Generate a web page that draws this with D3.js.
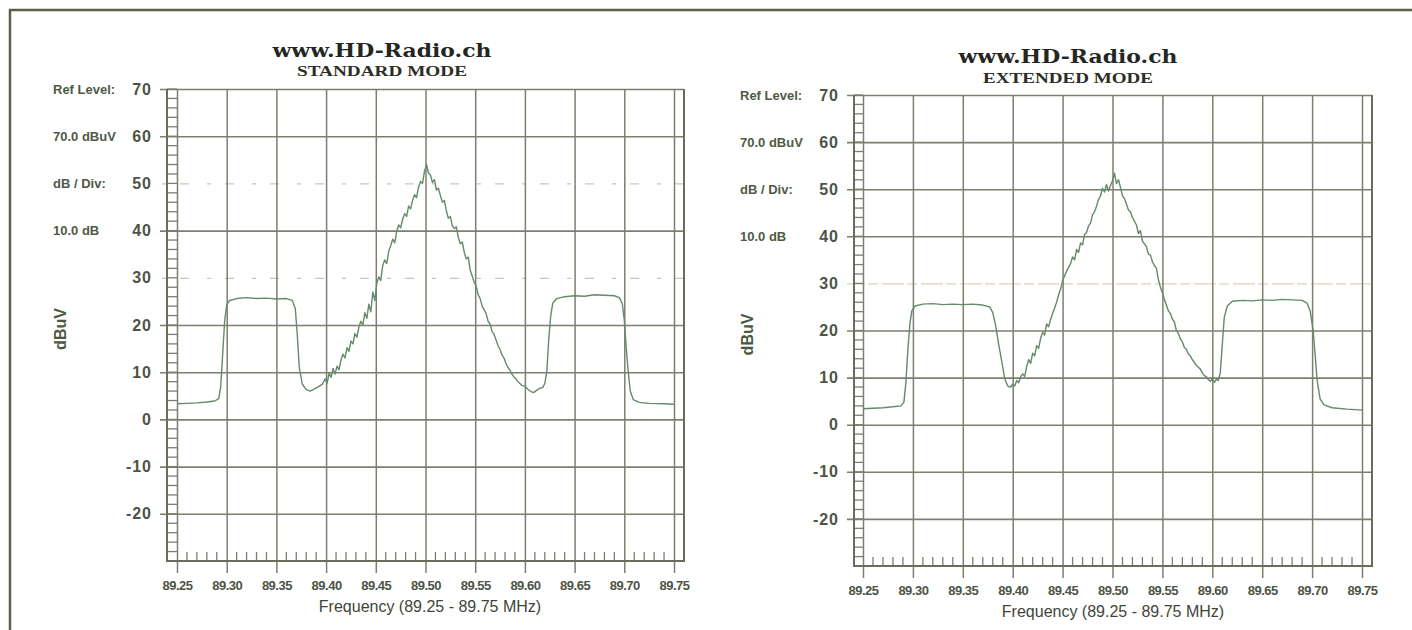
<!DOCTYPE html>
<html>
<head>
<meta charset="utf-8">
<script src="https://cdn.jsdelivr.net/npm/d3@7"></script>
<style>
  body { margin: 0; background: #fff; }
  svg { display: block; }
</style>
</head>
<body>
<div id="chart"></div>
<script>
// axis ticks
const freqTicks = [89.25, 89.3, 89.35, 89.4, 89.45, 89.5, 89.55, 89.6, 89.65, 89.7, 89.75];
const levelTicks = [-20, -10, 0, 10, 20, 30, 40, 50, 60, 70];

// analyzer settings printed left of the plot, next to the levels 70..40
const infoLabels = ["Ref Level:", "70.0 dBuV", "dB / Div:", "10.0 dB"];
const infoLevels = [70, 60, 50, 40];

// grid levels that are drawn as faint dashed lines instead of solid ones
const stdRefLevels = [50, 30];
const extRefLevels = [30];

// [frequency MHz, level dBuV]
const stdTrace = [
  [89.25, 3.3], [89.26, 3.4], [89.27, 3.5], [89.28, 3.7], [89.288, 3.9], [89.292, 4.4],
  [89.294, 7], [89.296, 14], [89.298, 21], [89.3, 24.2], [89.303, 25.2], [89.31, 25.6],
  [89.32, 25.8], [89.33, 25.6], [89.34, 25.7], [89.35, 25.5], [89.36, 25.6], [89.366, 25.2],
  [89.369, 23.5], [89.371, 18], [89.373, 11], [89.376, 7.5], [89.38, 6.3], [89.384, 6.0],
  [89.388, 6.4], [89.392, 6.9], [89.396, 7.4], [89.399, 8.6], [89.401, 7.6], [89.403, 9.8],
  [89.405, 8.9], [89.407, 10.8], [89.409, 9.6], [89.411, 11.3], [89.413, 10.5], [89.415, 12.6],
  [89.417, 13.8], [89.419, 13.0], [89.421, 15.2], [89.423, 14.4], [89.425, 16.6], [89.427, 16.0],
  [89.429, 18.2], [89.431, 17.4], [89.433, 19.6], [89.435, 20.8], [89.437, 20.0], [89.439, 22.6],
  [89.441, 21.4], [89.443, 24.4], [89.445, 22.8], [89.447, 27.0], [89.449, 25.2], [89.451, 28.8],
  [89.453, 30.2], [89.455, 29.4], [89.457, 32.6], [89.459, 33.8], [89.461, 33.0], [89.463, 35.6],
  [89.465, 36.8], [89.467, 38.2], [89.469, 37.4], [89.471, 39.8], [89.473, 41.2], [89.475, 40.6],
  [89.477, 42.4], [89.479, 43.6], [89.481, 43.0], [89.483, 45.2], [89.485, 44.6], [89.487, 46.4],
  [89.489, 47.6], [89.491, 47.0], [89.493, 49.2], [89.495, 50.4], [89.497, 50.0], [89.499, 52.6],
  [89.501, 54.0], [89.503, 52.2], [89.505, 51.8], [89.507, 50.2], [89.509, 50.8], [89.511, 48.6],
  [89.513, 49.0], [89.515, 47.4], [89.517, 46.0], [89.519, 46.4], [89.521, 44.2], [89.523, 42.6],
  [89.525, 43.0], [89.527, 41.0], [89.529, 40.4], [89.531, 40.8], [89.533, 38.6], [89.535, 37.2],
  [89.537, 37.6], [89.539, 35.4], [89.541, 34.0], [89.543, 34.4], [89.545, 31.6], [89.547, 30.4],
  [89.549, 29.0], [89.551, 28.2], [89.553, 26.4], [89.555, 25.6], [89.557, 24.0], [89.559, 23.2],
  [89.561, 22.4], [89.563, 20.8], [89.565, 20.2], [89.567, 18.6], [89.569, 18.0], [89.571, 16.8],
  [89.573, 15.6], [89.575, 14.8], [89.577, 13.6], [89.579, 13.0], [89.581, 11.8], [89.583, 11.0],
  [89.585, 10.4], [89.587, 9.6], [89.589, 9.0], [89.591, 8.6], [89.593, 8.0], [89.595, 7.6],
  [89.597, 7.2], [89.6, 7.0], [89.603, 6.4], [89.606, 5.9], [89.609, 5.7], [89.612, 6.2],
  [89.615, 6.6], [89.618, 6.8], [89.62, 7.6], [89.622, 10], [89.624, 17], [89.626, 22],
  [89.628, 24.6], [89.632, 25.6], [89.64, 26.0], [89.65, 26.2], [89.66, 26.1], [89.67, 26.4],
  [89.68, 26.3], [89.69, 26.2], [89.695, 25.8], [89.698, 24.5], [89.7, 21], [89.702, 15],
  [89.704, 10], [89.706, 6], [89.709, 4.2], [89.715, 3.6], [89.725, 3.4], [89.74, 3.3],
  [89.75, 3.2]
];

// [frequency MHz, level dBuV]
const extTrace = [
  [89.25, 3.4], [89.26, 3.5], [89.27, 3.6], [89.28, 3.8], [89.288, 4.0], [89.291, 4.8],
  [89.293, 9], [89.295, 16], [89.297, 21.5], [89.299, 24.2], [89.302, 25.2], [89.31, 25.6],
  [89.32, 25.7], [89.33, 25.5], [89.34, 25.6], [89.35, 25.5], [89.36, 25.6], [89.37, 25.4],
  [89.377, 25.0], [89.38, 23.8], [89.383, 21], [89.386, 17], [89.389, 13.5], [89.392, 9.8],
  [89.395, 8.2], [89.398, 8.0], [89.4, 8.6], [89.402, 8.2], [89.404, 9.4], [89.406, 8.9],
  [89.408, 10.2], [89.41, 10.8], [89.412, 10.2], [89.414, 12.4], [89.416, 13.8], [89.418, 13.0],
  [89.42, 15.2], [89.422, 14.6], [89.424, 16.8], [89.426, 16.2], [89.428, 18.4], [89.43, 19.6],
  [89.432, 19.0], [89.434, 21.4], [89.436, 20.8], [89.438, 22.4], [89.44, 23.6], [89.442, 24.8],
  [89.444, 26.0], [89.446, 27.6], [89.448, 28.8], [89.45, 30.6], [89.452, 31.6], [89.454, 32.6],
  [89.456, 33.4], [89.458, 34.2], [89.46, 35.6], [89.462, 35.0], [89.464, 37.2], [89.466, 36.6],
  [89.468, 38.6], [89.47, 38.2], [89.472, 40.4], [89.474, 40.8], [89.476, 42.2], [89.478, 42.8],
  [89.48, 44.6], [89.482, 45.2], [89.484, 46.4], [89.486, 47.8], [89.488, 48.6], [89.49, 50.2],
  [89.492, 49.4], [89.494, 51.0], [89.496, 49.6], [89.498, 50.8], [89.5, 51.8], [89.502, 53.4],
  [89.504, 51.2], [89.506, 52.0], [89.508, 50.4], [89.51, 48.6], [89.512, 48.0], [89.514, 46.8],
  [89.516, 45.6], [89.518, 45.2], [89.52, 44.0], [89.522, 43.2], [89.524, 42.4], [89.526, 40.6],
  [89.528, 41.2], [89.53, 39.0], [89.532, 38.4], [89.534, 37.8], [89.536, 36.2], [89.538, 36.0],
  [89.54, 34.6], [89.542, 33.8], [89.544, 33.2], [89.546, 30.8], [89.548, 29.2], [89.55, 28.0],
  [89.552, 26.6], [89.554, 25.4], [89.556, 24.2], [89.558, 23.6], [89.56, 22.4], [89.562, 21.8],
  [89.564, 20.0], [89.566, 19.4], [89.568, 18.2], [89.57, 17.6], [89.572, 16.4], [89.574, 16.0],
  [89.576, 15.0], [89.578, 14.6], [89.58, 13.8], [89.582, 13.2], [89.584, 12.6], [89.586, 12.2],
  [89.588, 11.8], [89.59, 11.0], [89.592, 10.4], [89.594, 10.2], [89.596, 9.6], [89.598, 9.2],
  [89.6, 9.8], [89.602, 9.0], [89.604, 9.6], [89.606, 9.4], [89.608, 11], [89.61, 17],
  [89.612, 22.8], [89.615, 25.2], [89.62, 26.2], [89.63, 26.4], [89.64, 26.3], [89.65, 26.5],
  [89.66, 26.4], [89.67, 26.6], [89.68, 26.5], [89.69, 26.4], [89.695, 25.8], [89.698, 24.2],
  [89.701, 20], [89.703, 15], [89.705, 9.5], [89.708, 5.5], [89.712, 4.2], [89.72, 3.6],
  [89.735, 3.3], [89.75, 3.1]
];

const gridColor = "#7c7f6d";
const frameColor = "#6a6d5b";
const textColor = "#4d5446";
const traceColor = "#638a69";

const panels = [
  {
    mode: "STANDARD MODE", trace: stdTrace, refs: stdRefLevels,
    refColor: "#c4b2b5", refDash: "9,14,4,18",
    frameLeft: 167, left: 177, right: 674, frameRight: 684, top: 89, bottom: 561,
    titleX: 382, titleY: 57, modeY: 76, infoX: 53, unitX: 62,
    axisTitleX: 430, axisTitleY: 612
  },
  {
    mode: "EXTENDED MODE", trace: extTrace, refs: extRefLevels,
    refColor: "#d6c8a8", refDash: "22,4,10,3",
    frameLeft: 854, left: 863, right: 1362, frameRight: 1372, top: 95, bottom: 566,
    titleX: 1068, titleY: 63, modeY: 83, infoX: 740, unitX: 749,
    axisTitleX: 1113, axisTitleY: 617
  }
];

const svg = d3
  .select("#chart")
  .append("svg")
  .attr("width", 1412)
  .attr("height", 630);

// page border (top and left edge of the scan)
svg
  .append("path")
  .attr("d", "M10,630 V10 H1412")
  .attr("fill", "none")
  .attr("stroke", "#5c604c")
  .attr("stroke-width", 2.5);

const drawPanel = (p) => {
  const x = d3.scaleLinear().domain([89.25, 89.75]).range([p.left, p.right]);
  const y = d3.scaleLinear().domain([-30, 70]).range([p.bottom, p.top]);
  const g = svg.append("g");

  // titles
  g.append("text")
    .attr("x", p.titleX)
    .attr("y", p.titleY)
    .attr("text-anchor", "middle")
    .attr("font-family", "DejaVu Serif")
    .attr("font-weight", "bold")
    .attr("font-size", 19)
    .attr("fill", "#25261f")
    .attr("textLength", 219)
    .attr("lengthAdjust", "spacingAndGlyphs")
    .text("www.HD-Radio.ch");

  g.append("text")
    .attr("x", p.titleX)
    .attr("y", p.modeY)
    .attr("text-anchor", "middle")
    .attr("font-family", "Liberation Serif")
    .attr("font-weight", "bold")
    .attr("font-size", 15)
    .attr("fill", "#2c2d25")
    .attr("textLength", 170)
    .attr("lengthAdjust", "spacingAndGlyphs")
    .text(p.mode);

  // horizontal grid + level labels
  const yAxis = g
    .append("g")
    .attr("transform", "translate(" + p.frameRight + ",0)")
    .call(
      d3.axisLeft(y)
        .tickValues(levelTicks)
        .tickSize(p.frameRight - p.frameLeft + 7)
        .tickPadding(8)
        .tickFormat((d) => String(d))
    );
  yAxis.select(".domain").remove();
  yAxis.selectAll(".tick line").attr("stroke", gridColor).attr("stroke-width", 1.6);
  // the reference levels are faint dashed lines, not solid grid
  yAxis
    .selectAll(".tick line")
    .filter((d) => p.refs.includes(d))
    .attr("stroke", p.refColor)
    .attr("stroke-width", 1)
    .attr("stroke-dasharray", p.refDash);
  yAxis
    .selectAll(".tick text")
    .attr("fill", textColor)
    .attr("font-family", "Liberation Sans, Arial")
    .attr("font-weight", "bold")
    .attr("font-size", 16)
    .attr("letter-spacing", 1);

  // vertical grid + frequency labels
  const xAxis = g
    .append("g")
    .attr("transform", "translate(0," + p.top + ")")
    .call(
      d3.axisBottom(x)
        .tickValues(freqTicks)
        .tickSize(p.bottom - p.top + 12)
        .tickPadding(8)
        .tickFormat(d3.format(".2f"))
    );
  xAxis.select(".domain").remove();
  xAxis.selectAll(".tick line").attr("stroke", gridColor).attr("stroke-width", 1.5);
  xAxis
    .selectAll(".tick text")
    .attr("fill", textColor)
    .attr("font-family", "Liberation Sans, Arial")
    .attr("font-weight", "bold")
    .attr("font-size", 13)
    .attr("letter-spacing", -0.5);

  // minor ticks along the bottom edge, every 0.01 MHz
  const minorFreqs = d3.range(50).filter((i) => i % 5 !== 0).map((i) => 89.25 + i * 0.01);
  g.selectAll(".minor-x")
    .data(minorFreqs)
    .enter()
    .append("line")
    .attr("x1", (d) => x(d))
    .attr("x2", (d) => x(d))
    .attr("y1", p.bottom)
    .attr("y2", p.bottom - 9)
    .attr("stroke", gridColor)
    .attr("stroke-width", 1.3);

  // ladder on the left edge, a rung every 2 dB
  g.selectAll(".rung")
    .data(d3.range(-30, 71, 2))
    .enter()
    .append("line")
    .attr("x1", p.frameLeft)
    .attr("x2", p.left)
    .attr("y1", (d) => y(d))
    .attr("y2", (d) => y(d))
    .attr("stroke", gridColor)
    .attr("stroke-width", 1.3);

  // frame
  g.append("path")
    .attr("d", "M" + p.frameLeft + "," + p.top + " V" + p.bottom + " H" + p.frameRight + " V" + p.top)
    .attr("fill", "none")
    .attr("stroke", frameColor)
    .attr("stroke-width", 2);

  // the spectrum trace
  g.append("path")
    .datum(p.trace)
    .attr("fill", "none")
    .attr("stroke", traceColor)
    .attr("stroke-width", 1.4)
    .attr("stroke-linejoin", "round")
    .attr("d", d3.line().x((d) => x(d[0])).y((d) => y(d[1])));

  // analyzer settings
  g.selectAll(".info")
    .data(infoLabels)
    .enter()
    .append("text")
    .attr("x", p.infoX)
    .attr("y", (d, i) => y(infoLevels[i]) + 4.5)
    .attr("fill", "#4f5a46")
    .attr("font-family", "Liberation Sans, Arial")
    .attr("font-weight", "bold")
    .attr("font-size", 13)
    .text((d) => d);

  // unit label
  const unitY = (p.top + p.bottom) / 2 + 4;
  g.append("text")
    .attr("transform", "translate(" + p.unitX + "," + unitY + ") rotate(-90)")
    .attr("text-anchor", "middle")
    .attr("dominant-baseline", "middle")
    .attr("fill", "#4a5a42")
    .attr("font-family", "Liberation Sans, Arial")
    .attr("font-weight", "bold")
    .attr("font-size", 16)
    .text("dBuV");

  // frequency axis title
  g.append("text")
    .attr("x", p.axisTitleX)
    .attr("y", p.axisTitleY)
    .attr("text-anchor", "middle")
    .attr("fill", "#3f4538")
    .attr("font-family", "Liberation Sans, Arial")
    .attr("font-size", 16)
    .text("Frequency (89.25 - 89.75 MHz)");
};

panels.forEach(drawPanel);
</script>
</body>
</html>
